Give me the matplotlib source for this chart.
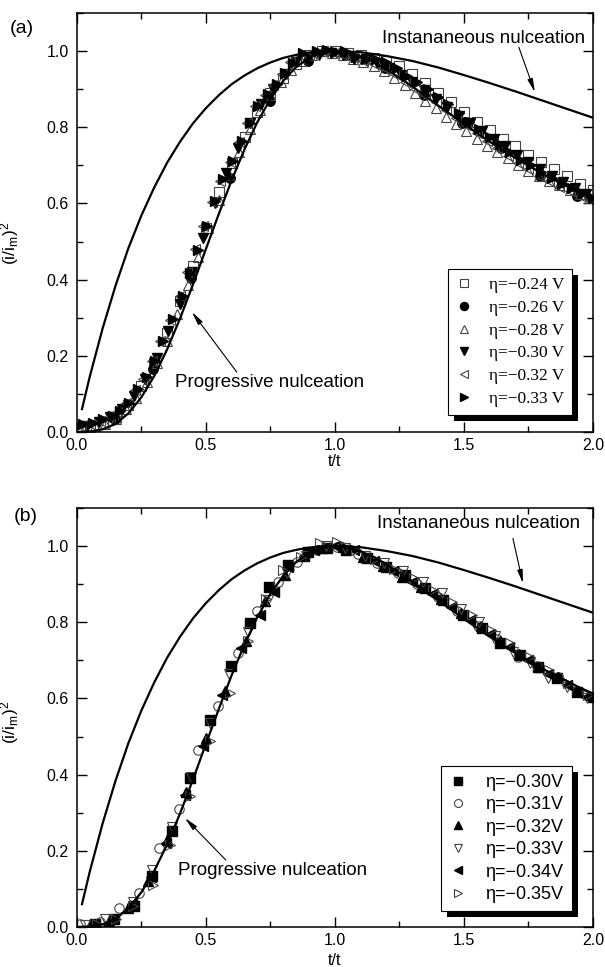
import matplotlib
matplotlib.use("Agg")
import matplotlib.pyplot as plt
from matplotlib.patches import Rectangle
from matplotlib.ticker import MultipleLocator

plt.rcParams["font.family"] = ["Liberation Sans", "DejaVu Sans"]
plt.rcParams["mathtext.fontset"] = "custom"
plt.rcParams["mathtext.rm"] = "Liberation Sans"
plt.rcParams["mathtext.it"] = "Liberation Sans:italic"

# ---------------------------------------------------------------------------
# Theoretical curves
# ---------------------------------------------------------------------------
inst_x = [0.02, 0.05, 0.10, 0.15, 0.20, 0.25, 0.30, 0.35, 0.40, 0.45, 0.50, 0.55, 0.60, 0.65,
          0.70, 0.75, 0.80, 0.85, 0.90, 0.95, 1.00, 1.10, 1.20, 1.30, 1.40, 1.50, 1.60, 1.70,
          1.80, 1.90, 2.00]
inst_y = [0.060, 0.145, 0.272, 0.384, 0.483, 0.568, 0.642, 0.707, 0.762, 0.810, 0.850, 0.884,
          0.913, 0.936, 0.955, 0.970, 0.982, 0.990, 0.996, 0.999, 1.000, 0.997, 0.987, 0.974,
          0.957, 0.937, 0.916, 0.894, 0.871, 0.848, 0.825]

prog_x = [0.00, 0.05, 0.10, 0.15, 0.20, 0.25, 0.30, 0.35, 0.40, 0.45, 0.50, 0.55, 0.60, 0.65,
          0.70, 0.75, 0.80, 0.85, 0.90, 0.95, 1.00, 1.05, 1.10, 1.15, 1.20, 1.25, 1.30, 1.35,
          1.40, 1.45, 1.50, 1.55, 1.60, 1.65, 1.70, 1.75, 1.80, 1.85, 1.90, 1.95, 2.00]
prog_y = [0.000, 0.001, 0.007, 0.021, 0.049, 0.091, 0.147, 0.217, 0.298, 0.387, 0.480, 0.572,
          0.661, 0.742, 0.814, 0.874, 0.922, 0.958, 0.982, 0.996, 1.000, 0.996, 0.986, 0.971,
          0.952, 0.930, 0.907, 0.882, 0.857, 0.833, 0.809, 0.785, 0.762, 0.740, 0.719, 0.699,
          0.680, 0.662, 0.645, 0.628, 0.613]

# ---------------------------------------------------------------------------
# Panel (a) data
# ---------------------------------------------------------------------------
a_labels = ["η=−0.24 V", "η=−0.26 V", "η=−0.28 V", "η=−0.30 V", "η=−0.32 V", "η=−0.33 V"]

a024_x = [0.05, 0.10, 0.15, 0.20, 0.25, 0.30, 0.35, 0.40, 0.45, 0.50, 0.55, 0.60, 0.65, 0.70,
          0.75, 0.80, 0.85, 0.90, 0.95, 1.00, 1.05, 1.10, 1.15, 1.20, 1.25, 1.30, 1.35, 1.40,
          1.45, 1.50, 1.55, 1.60, 1.65, 1.70, 1.75, 1.80, 1.85, 1.90, 1.95, 2.00]
a024_y = [0.012, 0.020, 0.040, 0.070, 0.120, 0.180, 0.260, 0.345, 0.435, 0.535, 0.630, 0.705,
          0.775, 0.840, 0.890, 0.930, 0.965, 0.990, 1.000, 1.000, 0.995, 0.990, 0.982, 0.975,
          0.960, 0.940, 0.915, 0.890, 0.865, 0.840, 0.815, 0.793, 0.770, 0.750, 0.728, 0.710,
          0.690, 0.672, 0.652, 0.635]

a026_x = [0.148, 0.296, 0.444, 0.593, 0.748, 0.897, 1.046, 1.195, 1.344, 1.493, 1.642, 1.795, 1.940]
a026_y = [0.035, 0.164, 0.405, 0.668, 0.869, 0.974, 0.990, 0.955, 0.885, 0.810, 0.745, 0.672, 0.620]

a028_x = [0.03, 0.07, 0.11, 0.15, 0.19, 0.23, 0.27, 0.31, 0.35, 0.39, 0.43, 0.47, 0.51, 0.55,
          0.59, 0.63, 0.67, 0.71, 0.75, 0.79, 0.83, 0.87, 0.91, 0.95, 0.99, 1.03, 1.07, 1.11,
          1.15, 1.19, 1.23, 1.27, 1.31, 1.35, 1.39, 1.43, 1.47, 1.51, 1.55, 1.59, 1.63, 1.67,
          1.71, 1.75, 1.79, 1.83, 1.87, 1.91, 1.95, 1.99]
a028_y = [0.010, 0.015, 0.020, 0.035, 0.060, 0.090, 0.130, 0.180, 0.240, 0.310, 0.385, 0.460,
          0.535, 0.610, 0.675, 0.735, 0.795, 0.845, 0.885, 0.920, 0.950, 0.975, 0.990, 1.000,
          0.995, 0.990, 0.980, 0.972, 0.962, 0.948, 0.930, 0.910, 0.890, 0.870, 0.850, 0.828,
          0.808, 0.790, 0.770, 0.752, 0.735, 0.718, 0.700, 0.685, 0.672, 0.660, 0.648, 0.636,
          0.625, 0.615]

a030_x = [0.040, 0.085, 0.130, 0.175, 0.220, 0.265, 0.310, 0.355, 0.400, 0.445, 0.490, 0.535,
          0.580, 0.625, 0.670, 0.715, 0.760, 0.805, 0.850, 0.895, 0.940, 0.985, 1.030, 1.075,
          1.120, 1.165, 1.210, 1.255, 1.300, 1.345, 1.390, 1.435, 1.480, 1.525, 1.570, 1.615,
          1.660, 1.705, 1.750, 1.795, 1.840, 1.885, 1.930, 1.975]
a030_y = [0.015, 0.025, 0.038, 0.060, 0.095, 0.140, 0.195, 0.265, 0.335, 0.420, 0.510, 0.600,
          0.680, 0.745, 0.810, 0.862, 0.900, 0.940, 0.970, 0.985, 0.990, 0.995, 0.990, 0.980,
          0.978, 0.968, 0.955, 0.938, 0.918, 0.898, 0.875, 0.853, 0.830, 0.810, 0.790, 0.770,
          0.750, 0.728, 0.708, 0.690, 0.672, 0.655, 0.640, 0.625]

a032_x = [0.015, 0.052, 0.090, 0.128, 0.157, 0.190, 0.226, 0.258, 0.290, 0.322, 0.360, 0.400,
          0.427, 0.458, 0.490, 0.522, 0.555, 0.593, 0.628, 0.660, 0.692, 0.730, 0.762, 0.795,
          0.828, 0.866, 0.915, 0.955, 0.995, 1.030, 1.070, 1.110, 1.150, 1.190, 1.230, 1.270,
          1.310, 1.350, 1.390, 1.430, 1.470, 1.510, 1.550, 1.590, 1.630, 1.670, 1.710, 1.750,
          1.790, 1.830, 1.870, 1.910, 1.950, 1.990]
a032_y = [0.015, 0.020, 0.030, 0.040, 0.052, 0.075, 0.110, 0.140, 0.185, 0.238, 0.295, 0.357,
          0.420, 0.480, 0.540, 0.605, 0.660, 0.710, 0.762, 0.810, 0.855, 0.884, 0.912, 0.940,
          0.970, 0.990, 0.995, 1.000, 0.995, 0.990, 0.985, 0.975, 0.965, 0.955, 0.940, 0.920,
          0.900, 0.885, 0.865, 0.845, 0.825, 0.805, 0.785, 0.765, 0.745, 0.725, 0.705, 0.690,
          0.673, 0.658, 0.643, 0.632, 0.620, 0.610]

a033_x = [0.025, 0.063, 0.102, 0.141, 0.167, 0.203, 0.238, 0.270, 0.302, 0.335, 0.373, 0.412,
          0.438, 0.470, 0.503, 0.535, 0.567, 0.606, 0.641, 0.671, 0.703, 0.742, 0.774, 0.806,
          0.839, 0.877, 0.929, 0.968, 1.004, 1.040, 1.080, 1.120, 1.160, 1.200, 1.240, 1.280,
          1.320, 1.360, 1.400, 1.440, 1.480, 1.520, 1.560, 1.600, 1.640, 1.680, 1.720, 1.760,
          1.800, 1.840, 1.880, 1.920, 1.960, 2.000]
a033_y = [0.020, 0.024, 0.033, 0.042, 0.055, 0.077, 0.112, 0.143, 0.186, 0.239, 0.296, 0.357,
          0.418, 0.479, 0.541, 0.606, 0.663, 0.711, 0.764, 0.812, 0.856, 0.886, 0.913, 0.943,
          0.969, 0.996, 1.000, 1.004, 0.998, 1.000, 0.985, 0.980, 0.978, 0.970, 0.955, 0.935,
          0.920, 0.900, 0.880, 0.860, 0.838, 0.815, 0.795, 0.775, 0.755, 0.735, 0.715, 0.700,
          0.683, 0.668, 0.652, 0.640, 0.628, 0.615]

# ---------------------------------------------------------------------------
# Panel (b) data
# ---------------------------------------------------------------------------
b_labels = ["η=−0.30V", "η=−0.31V", "η=−0.32V", "η=−0.33V", "η=−0.34V", "η=−0.35V"]

b030_x = [0.070, 0.145, 0.220, 0.290, 0.367, 0.440, 0.515, 0.597, 0.671, 0.744, 0.820, 0.895,
          0.968, 1.045, 1.124, 1.198, 1.270, 1.349, 1.420, 1.497, 1.572, 1.640, 1.717, 1.787,
          1.860, 1.938]
b030_y = [0.008, 0.022, 0.055, 0.133, 0.251, 0.390, 0.544, 0.684, 0.799, 0.893, 0.950, 0.985,
          0.994, 0.990, 0.968, 0.945, 0.923, 0.890, 0.858, 0.820, 0.785, 0.745, 0.714, 0.683,
          0.653, 0.617]

b031_x = [0.012, 0.090, 0.164, 0.240, 0.319, 0.395, 0.470, 0.548, 0.625, 0.700, 0.780, 0.855,
          0.930, 1.010, 1.090, 1.165, 1.245, 1.320, 1.400, 1.475, 1.555, 1.630, 1.710, 1.785,
          1.865, 1.940]
b031_y = [0.007, 0.012, 0.050, 0.090, 0.207, 0.310, 0.465, 0.580, 0.720, 0.830, 0.906, 0.958,
          0.990, 0.998, 0.978, 0.955, 0.930, 0.900, 0.865, 0.830, 0.790, 0.755, 0.709, 0.685,
          0.655, 0.620]

b032_x = [0.050, 0.125, 0.200, 0.275, 0.348, 0.425, 0.500, 0.575, 0.655, 0.730, 0.805, 0.880,
          0.955, 1.030, 1.110, 1.185, 1.260, 1.335, 1.410, 1.490, 1.565, 1.640, 1.715, 1.790,
          1.865, 1.940, 2.000]
b032_y = [0.004, 0.015, 0.050, 0.120, 0.229, 0.355, 0.495, 0.620, 0.750, 0.855, 0.925, 0.975,
          0.995, 0.998, 0.972, 0.948, 0.920, 0.892, 0.860, 0.825, 0.790, 0.752, 0.716, 0.683,
          0.655, 0.620, 0.605]

b033_x = [0.030, 0.110, 0.216, 0.292, 0.368, 0.444, 0.515, 0.590, 0.665, 0.741, 0.815, 0.890,
          0.965, 1.040, 1.115, 1.190, 1.265, 1.340, 1.415, 1.490, 1.560, 1.620, 1.690, 1.756,
          1.826, 1.900, 1.977]
b033_y = [0.005, 0.020, 0.065, 0.150, 0.263, 0.395, 0.535, 0.665, 0.775, 0.859, 0.930, 0.975,
          1.000, 0.995, 0.975, 0.955, 0.935, 0.905, 0.878, 0.835, 0.800, 0.765, 0.722, 0.693,
          0.654, 0.630, 0.601]

b034_x = [0.065, 0.140, 0.215, 0.288, 0.345, 0.419, 0.490, 0.561, 0.638, 0.709, 0.765, 0.819,
          0.880, 0.920, 1.000, 1.075, 1.150, 1.225, 1.300, 1.375, 1.450, 1.525, 1.600, 1.675,
          1.750, 1.825, 1.900, 1.975]
b034_y = [0.006, 0.020, 0.060, 0.130, 0.220, 0.347, 0.474, 0.609, 0.732, 0.820, 0.880, 0.946,
          0.975, 0.990, 1.000, 0.990, 0.962, 0.935, 0.905, 0.875, 0.840, 0.805, 0.770, 0.735,
          0.700, 0.663, 0.635, 0.605]

b035_x = [0.080, 0.150, 0.218, 0.296, 0.360, 0.438, 0.515, 0.593, 0.664, 0.735, 0.800, 0.870,
          0.942, 1.010, 1.080, 1.155, 1.230, 1.305, 1.380, 1.455, 1.530, 1.605, 1.680, 1.755,
          1.830, 1.905, 1.980]
b035_y = [0.008, 0.020, 0.055, 0.111, 0.216, 0.343, 0.487, 0.614, 0.751, 0.860, 0.937, 0.970,
          1.007, 1.010, 0.990, 0.965, 0.940, 0.915, 0.885, 0.852, 0.818, 0.780, 0.745, 0.710,
          0.675, 0.640, 0.608]

GREY = "#444444"
ARROW = dict(arrowstyle="-|>,head_length=0.8,head_width=0.16", lw=0.8, color="k",
             shrinkA=0, shrinkB=0)


def style_axes(ax):
    ax.set_xlim(0, 2.0)
    ax.set_ylim(0, 1.1)
    ax.xaxis.set_minor_locator(MultipleLocator(0.25))
    ax.yaxis.set_minor_locator(MultipleLocator(0.1))
    ax.set_xticks([0, 0.5, 1.0, 1.5, 2.0])
    ax.set_xticklabels(["0.0", "0.5", "1.0", "1.5", "2.0"])
    ax.set_yticks([0, 0.2, 0.4, 0.6, 0.8, 1.0])
    ax.set_yticklabels(["0.0", "0.2", "0.4", "0.6", "0.8", "1.0"])
    ax.tick_params(which="both", direction="in", top=True, right=True, labelsize=11.5)
    ax.tick_params(which="major", length=7, width=1.0)
    ax.tick_params(which="minor", length=4, width=1.0)
    ax.tick_params(axis="x", pad=4)
    ax.tick_params(axis="y", pad=6)
    for sp in ax.spines.values():
        sp.set_linewidth(1.1)
    ax.set_xlabel("t/t", fontsize=11.5)
    ax.set_ylabel(r"(i/i$_\mathrm{m}$)$^2$", fontsize=12.5)


def add_shadow(fig, ax, leg, off=6):
    fig.canvas.draw()
    bb = leg.get_window_extent()
    inv = ax.transAxes.inverted()
    (x0, y0), (x1, y1) = inv.transform([[bb.x0 + off, bb.y0 - off], [bb.x1 + off, bb.y1 - off]])
    ax.add_patch(Rectangle((x0, y0), x1 - x0, y1 - y0, transform=ax.transAxes,
                           facecolor="k", edgecolor="none", zorder=4.5, clip_on=False))


fig = plt.figure(figsize=(6.05, 9.67), dpi=100)
ax1 = fig.add_axes([0.127, 0.5533, 0.853, 0.4333])
ax2 = fig.add_axes([0.127, 0.0414, 0.853, 0.4333])

ms = 6.8

# ---- panel (a)
ax = ax1
ax.plot(inst_x, inst_y, color="k", lw=1.6, zorder=3)
ax.plot(prog_x, prog_y, color="k", lw=1.6, zorder=3)
ax.plot(a024_x, a024_y, "s", ms=ms, mfc="white", mec=GREY, mew=0.8, label=a_labels[0])
ax.plot(a026_x, a026_y, "o", ms=ms, mfc="k", mec="k", label=a_labels[1])
ax.plot(a028_x, a028_y, "^", ms=ms, mfc="none", mec=GREY, mew=0.8, label=a_labels[2])
ax.plot(a030_x, a030_y, "v", ms=ms, mfc="k", mec="k", label=a_labels[3])
ax.plot(a032_x, a032_y, "<", ms=ms, mfc="none", mec=GREY, mew=0.8, label=a_labels[4])
ax.plot(a033_x, a033_y, ">", ms=ms, mfc="k", mec="k", label=a_labels[5])
style_axes(ax)
ax.xaxis.set_label_coords(0.5, -0.052)
ax.yaxis.set_label_coords(-0.108, 0.45)
ax.text(1.578, 1.034, "Instananeous nulceation", ha="center", va="center", fontsize=13.5)
ax.annotate("", xy=(1.775, 0.892), xytext=(1.713, 1.01), arrowprops=ARROW)
ax.text(0.748, 0.131, "Progressive nulceation", ha="center", va="center", fontsize=13.5)
ax.annotate("", xy=(0.446, 0.315), xytext=(0.62, 0.157), arrowprops=ARROW)
leg1 = ax.legend(loc="lower right", bbox_to_anchor=(0.959, 0.041), borderaxespad=0,
                 prop={"family": "Liberation Serif", "size": 12.5}, fancybox=False,
                 framealpha=1, edgecolor="k", handlelength=1.0, handletextpad=0.9,
                 labelspacing=0.38, borderpad=0.45, markerscale=0.85)
leg1.get_frame().set_linewidth(0.8)
leg1.set_zorder(5)

# ---- panel (b)
ax = ax2
ax.plot(inst_x, inst_y, color="k", lw=1.6, zorder=3)
ax.plot(prog_x, prog_y, color="k", lw=1.6, zorder=3)
ax.plot(b030_x, b030_y, "s", ms=ms, mfc="k", mec="k", label=b_labels[0])
ax.plot(b031_x, b031_y, "o", ms=ms, mfc="none", mec=GREY, mew=0.8, label=b_labels[1])
ax.plot(b032_x, b032_y, "^", ms=ms, mfc="k", mec="k", label=b_labels[2])
ax.plot(b033_x, b033_y, "v", ms=ms, mfc="none", mec=GREY, mew=0.8, label=b_labels[3])
ax.plot(b034_x, b034_y, "<", ms=ms, mfc="k", mec="k", label=b_labels[4])
ax.plot(b035_x, b035_y, ">", ms=ms, mfc="none", mec=GREY, mew=0.8, label=b_labels[5])
style_axes(ax)
ax.xaxis.set_label_coords(0.5, -0.062)
ax.yaxis.set_label_coords(-0.108, 0.487)
ax.text(1.558, 1.059, "Instananeous nulceation", ha="center", va="center", fontsize=13.5)
ax.annotate("", xy=(1.729, 0.902), xytext=(1.69, 1.02), arrowprops=ARROW)
ax.text(0.76, 0.149, "Progressive nulceation", ha="center", va="center", fontsize=13.5)
ax.annotate("", xy=(0.419, 0.286), xytext=(0.577, 0.176), arrowprops=ARROW)
leg2 = ax.legend(loc="lower right", bbox_to_anchor=(0.959, 0.038), borderaxespad=0,
                 prop={"size": 13}, fancybox=False,
                 framealpha=1, edgecolor="k", handlelength=1.0, handletextpad=1.0,
                 labelspacing=0.3, borderpad=0.45, markerscale=0.85)
leg2.get_frame().set_linewidth(0.8)
leg2.set_zorder(5)

fig.text(0.016, 0.971, "(a)", fontsize=14, va="center")
fig.text(0.022, 0.4654, "(b)", fontsize=14, va="center")

add_shadow(fig, ax1, leg1)
add_shadow(fig, ax2, leg2)

fig.savefig("out.png", dpi=100)
